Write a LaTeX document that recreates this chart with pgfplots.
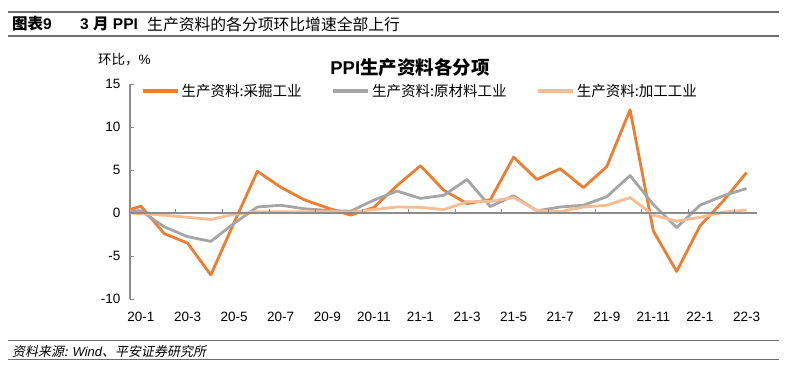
\documentclass[border=0pt]{standalone}
\usepackage{pgfplots}
\pgfplotsset{compat=1.18}
\usepackage{pgfplotstable}
\usepackage{fontspec}
\setmainfont{Liberation Sans}
\newfontfamily\cjk{Noto Sans CJK SC}
\newfontfamily\cjksl[FakeSlant=0.2]{Noto Sans CJK SC}
\definecolor{cOr}{HTML}{ED7D31}
\definecolor{cGr}{HTML}{A5A5A5}
\definecolor{cLt}{HTML}{F6BC92}
\definecolor{cAx}{HTML}{8C8C8C}
\definecolor{cRule}{HTML}{6E6E6E}

\pgfplotstableread{
x mining raw proc
-1 -0.05 0.35 0.00
0 0.80 0.25 -0.05
1 -2.40 -1.60 -0.25
2 -3.50 -2.75 -0.50
3 -7.20 -3.30 -0.75
4 -1.10 -1.20 -0.15
5 4.85 0.70 0.15
6 3.00 0.90 0.15
7 1.55 0.50 0.15
8 0.60 0.30 0.15
9 -0.25 0.20 0.10
10 0.65 1.50 0.40
11 3.20 2.55 0.70
12 5.50 1.70 0.65
13 2.65 2.05 0.40
14 1.10 3.90 1.30
15 1.55 0.75 1.35
16 6.50 2.00 1.80
17 3.90 0.25 0.30
18 5.15 0.70 0.15
19 2.95 0.90 0.70
20 5.40 1.90 0.90
21 12.00 4.35 1.80
22 -2.10 1.00 -0.25
23 -6.80 -1.70 -0.95
24 -1.50 0.90 -0.50
25 1.40 2.00 0.10
26 4.70 2.85 0.35
}\datatable

\begin{document}
\begin{tikzpicture}[x=1pt,y=1pt]
\path[use as bounding box] (0,0) rectangle (787,367);
% header and footer rules
\draw[cRule, line width=2pt] (8,355.3) -- (779,355.3);
\draw[cRule, line width=1.4pt] (8,331) -- (779,331);
\draw[cRule, line width=1.2pt] (8,26.3) -- (779,26.3);
\draw[cRule, line width=1.2pt] (8,7.7) -- (779,7.7);
% header
\node[anchor=west, inner sep=0pt, font=\fontsize{15.5}{15.5}\selectfont\bfseries] at (12,343) {{\cjk 图表}9};
\node[anchor=west, inner sep=0pt, font=\fontsize{15.5}{15.5}\selectfont\bfseries] at (80,343) {3 {\cjk 月} PPI};
\node[anchor=west, inner sep=0pt, font=\fontsize{15.8}{15.8}\selectfont] at (147,343) {\cjk 生产资料的各分项环比增速全部上行};
% footer
\node[anchor=west, inner sep=0pt, font=\fontsize{13}{13}\selectfont] at (12,15.3) {{\cjksl 资料来源:} {\itshape Wind}{\cjksl 、平安证券研究所}};
% y unit label
\node[anchor=west, inner sep=0pt, font=\fontsize{13.5}{13.5}\selectfont] at (98,307) {{\cjk 环比，}\%};
% chart title
\node[inner sep=0pt, font=\fontsize{18.5}{18.5}\selectfont\bfseries] at (410,299) {PPI{\cjk 生产资料各分项}};

\begin{axis}[
  at={(130pt,68pt)}, anchor=south west,
  scale only axis, width=627pt, height=215pt,
  xmin=-0.47, xmax=26.45, ymin=-10, ymax=15,
  axis lines=left,
  axis line style={-, cAx, line width=1.2pt},
  x axis line style={draw=none},
  xtick={0,2,...,26},
  xticklabels={20-1,20-3,20-5,20-7,20-9,20-11,21-1,21-3,21-5,21-7,21-9,21-11,22-1,22-3},
  xtick style={draw=none},
  ytick={-10,-5,0,5,10,15},
  ytick style={cAx, line width=1pt},
  tick align=inside,
  major tick length=4pt,
  /pgf/number format/assume math mode=true,
  tick label style={font=\fontsize{13.5}{13.5}\selectfont, text=black},
  xticklabel style={yshift=-10pt},
  yticklabel style={xshift=-6pt},
  clip=true,
  legend columns=3,
  legend style={at={(axis description cs:0.0175,0.967)}, anchor=west, draw=none, fill=none,
    inner sep=0pt, font=\fontsize{14.5}{14.5}\selectfont\cjk,
    /tikz/every even column/.append style={column sep=28pt}},
  legend image code/.code={\draw[#1, line width=3.4pt] (0pt,0pt) -- (35pt,0pt);},
]
\addplot[cOr, line width=2.8pt, line join=round] table[x=x, y=mining] {\datatable};
\addlegendentry{生产资料:采掘工业}
\addplot[cGr, line width=2.8pt, line join=round] table[x=x, y=raw] {\datatable};
\addlegendentry{生产资料:原材料工业}
\addplot[cLt, line width=2.8pt, line join=round] table[x=x, y=proc] {\datatable};
\addlegendentry{生产资料:加工工业}
\draw[cAx, line width=1.2pt] (axis cs:-0.47,0) -- (axis cs:26.45,0);
\pgfplotsinvokeforeach{1.5,3.5,5.5,7.5,9.5,11.5,13.5,15.5,17.5,19.5,21.5,23.5,25.5}{
  \draw[cAx, line width=1pt] (axis cs:#1,0) -- ++(0pt,4pt);
}
\end{axis}
\end{tikzpicture}
\end{document}
